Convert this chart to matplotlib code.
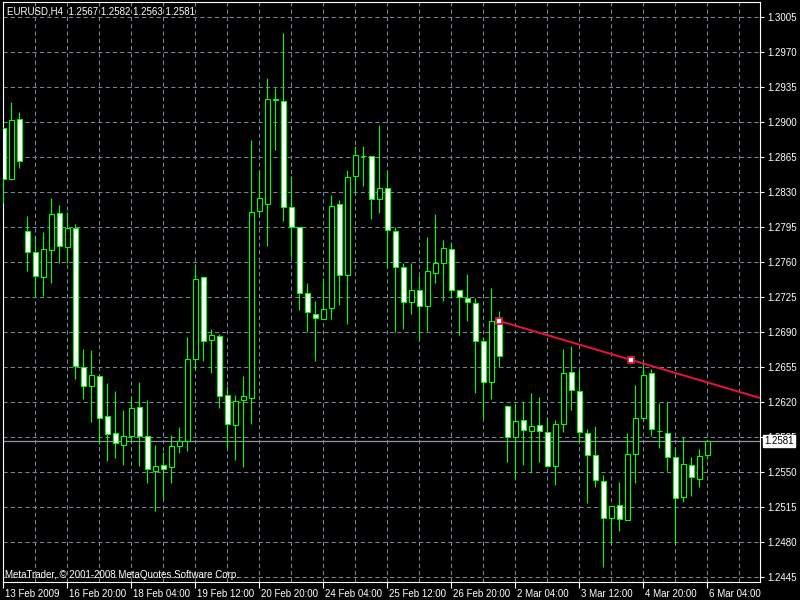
import matplotlib
matplotlib.use('Agg')
import matplotlib.pyplot as plt
import matplotlib.transforms as mtransforms
import numpy as np

plt.rcParams['font.family'] = ['Liberation Sans', 'DejaVu Sans']

symbol = 'EURUSD,H4'

# H4 candles, oldest first
opens = [1.2894, 1.2843, 1.2903, 1.2791, 1.2770, 1.2745, 1.2772, 1.2809, 1.2775, 1.2794,
         1.2655, 1.2636, 1.2646, 1.2606, 1.2589, 1.2577, 1.2586, 1.2615, 1.2586, 1.2551,
         1.2557, 1.2555, 1.2576, 1.2581, 1.2663, 1.2745, 1.2682, 1.2686, 1.2627, 1.2597,
         1.2622, 1.2624, 1.2811, 1.2818, 1.2922, 1.2921, 1.2815, 1.2795, 1.2729, 1.2708,
         1.2703, 1.2714, 1.2818, 1.2747, 1.2846, 1.2866, 1.2866, 1.2823, 1.2834, 1.2791,
         1.2755, 1.2720, 1.2732, 1.2716, 1.2749, 1.2759, 1.2773, 1.2732, 1.2724, 1.2719,
         1.2681, 1.2640, 1.2700, 1.2616, 1.2585, 1.2602, 1.2591, 1.2597, 1.2590, 1.2556,
         1.2598, 1.2650, 1.2631, 1.2589, 1.2567, 1.2541, 1.2504, 1.2517, 1.2502, 1.2568,
         1.2604, 1.2649, 1.2591, 1.2589, 1.2565, 1.2525, 1.2557, 1.2543, 1.2567]
highs = [1.2895, 1.2920, 1.2910, 1.2806, 1.2786, 1.2790, 1.2824, 1.2817, 1.2810, 1.2798,
         1.2673, 1.2672, 1.2648, 1.2639, 1.2631, 1.2612, 1.2625, 1.2640, 1.2622, 1.2577,
         1.2570, 1.2587, 1.2595, 1.2685, 1.2758, 1.2745, 1.2693, 1.2688, 1.2636, 1.2627,
         1.2646, 1.2882, 1.2852, 1.2944, 1.2934, 1.2989, 1.2846, 1.2795, 1.2739, 1.2721,
         1.2744, 1.2827, 1.2822, 1.2852, 1.2876, 1.2876, 1.2866, 1.2897, 1.2852, 1.2795,
         1.2759, 1.2759, 1.2746, 1.2785, 1.2808, 1.2782, 1.2780, 1.2732, 1.2748, 1.2724,
         1.2685, 1.2734, 1.2711, 1.2617, 1.2618, 1.2620, 1.2629, 1.2625, 1.2605, 1.2602,
         1.2673, 1.2676, 1.2652, 1.2593, 1.2596, 1.2547, 1.2516, 1.2540, 1.2589, 1.2637,
         1.2661, 1.2653, 1.2619, 1.2620, 1.2575, 1.2585, 1.2565, 1.2573, 1.2582]
lows = [1.2819, 1.2842, 1.2854, 1.2751, 1.2725, 1.2726, 1.2739, 1.2759, 1.2759, 1.2643,
        1.2623, 1.2600, 1.2578, 1.2561, 1.2564, 1.2557, 1.2579, 1.2556, 1.2539, 1.2511,
        1.2523, 1.2539, 1.2569, 1.2571, 1.2652, 1.2661, 1.2649, 1.2614, 1.2574, 1.2562,
        1.2555, 1.2598, 1.2806, 1.2776, 1.2872, 1.2801, 1.2765, 1.2712, 1.2690, 1.2661,
        1.2703, 1.2703, 1.2717, 1.2698, 1.2829, 1.2836, 1.2803, 1.2809, 1.2754, 1.2690,
        1.2693, 1.2708, 1.2681, 1.2691, 1.2739, 1.2721, 1.2724, 1.2687, 1.2701, 1.2629,
        1.2603, 1.2623, 1.2655, 1.2560, 1.2543, 1.2557, 1.2550, 1.2560, 1.2555, 1.2537,
        1.2590, 1.2612, 1.2580, 1.2519, 1.2535, 1.2455, 1.2479, 1.2491, 1.2502, 1.2539,
        1.2602, 1.2586, 1.2574, 1.2551, 1.2478, 1.2520, 1.2526, 1.2535, 1.2563]
closes = [1.2843, 1.2902, 1.2861, 1.2770, 1.2746, 1.2773, 1.2808, 1.2776, 1.2794, 1.2656,
          1.2636, 1.2647, 1.2604, 1.2588, 1.2579, 1.2586, 1.2614, 1.2586, 1.2553, 1.2556,
          1.2553, 1.2576, 1.2581, 1.2663, 1.2743, 1.2681, 1.2687, 1.2626, 1.2598, 1.2621,
          1.2626, 1.2810, 1.2824, 1.2923, 1.2923, 1.2815, 1.2795, 1.2729, 1.2710, 1.2704,
          1.2713, 1.2816, 1.2747, 1.2845, 1.2867, 1.2866, 1.2823, 1.2834, 1.2792, 1.2755,
          1.2720, 1.2732, 1.2716, 1.2751, 1.2759, 1.2774, 1.2732, 1.2725, 1.2720, 1.2681,
          1.2640, 1.2701, 1.2666, 1.2585, 1.2601, 1.2592, 1.2596, 1.2591, 1.2556, 1.2598,
          1.2649, 1.2632, 1.2590, 1.2567, 1.2542, 1.2504, 1.2516, 1.2503, 1.2568, 1.2604,
          1.2647, 1.2593, 1.2591, 1.2565, 1.2524, 1.2558, 1.2545, 1.2566, 1.2581]

date_labels = ['13 Feb 2009', '16 Feb 20:00', '18 Feb 04:00', '19 Feb 12:00',
               '20 Feb 20:00', '24 Feb 04:00', '25 Feb 12:00', '26 Feb 20:00',
               '2 Mar 04:00', '3 Mar 12:00', '4 Mar 20:00', '6 Mar 04:00']
price_ticks = [1.2445, 1.2480, 1.2515, 1.2550, 1.2585, 1.2620, 1.2655, 1.2690, 1.2725,
               1.2760, 1.2795, 1.2830, 1.2865, 1.2900, 1.2935, 1.2970, 1.3005]
bid = 1.2581

# trendline anchors (bar index, price)
trend_x = [62, 78.5]
trend_y = [1.2701, 1.2662]

GREEN = '#00ff00'
GRID = '#778899'

fig = plt.figure(figsize=(8, 6), dpi=100)
fig.set_facecolor('black')
ax = fig.add_axes([2.7 / 800, 17.7 / 600, 757.6 / 800, 580 / 600])
ax.set_facecolor('black')

x = np.arange(len(opens))
o = np.array(opens)
c = np.array(closes)
ax.vlines(x, lows, highs, color=GREEN, lw=0.8, zorder=3)
body_col = ['black' if cc > oo else 'white' for oo, cc in zip(o, c)]
ax.bar(x, c - o, bottom=o, width=0.6, color=body_col, edgecolor=GREEN,
       linewidth=0.8, zorder=4)

ax.set_xlim(-0.075, 94.6)
ax.set_ylim(1.24397, 1.30197)

# bid line
ax.axhline(bid, color='#8c96a0', lw=0.9, zorder=2)

# trendline as a ray to the right edge
slope = (trend_y[1] - trend_y[0]) / (trend_x[1] - trend_x[0])
x_end = ax.get_xlim()[1]
ax.plot([trend_x[0], x_end], [trend_y[0], trend_y[0] + slope * (x_end - trend_x[0])],
        color='#dc143c', lw=1.5, zorder=5)
ax.plot(trend_x, trend_y, ls='none', marker='s', ms=4, mfc='white', mec='#dc143c',
        mew=1.3, zorder=6)

# axes, ticks and grid
for s in ax.spines.values():
    s.set_color('white')
    s.set_linewidth(0.8)

ax.yaxis.tick_right()
ax.set_yticks(price_ticks)
ax.set_yticklabels(['%.4f' % p for p in price_ticks])
ax.tick_params(axis='y', colors='white', length=3, width=0.8, pad=2, labelsize=7)

ax.set_xticks(range(0, len(opens), 8))
ax.set_xticklabels(date_labels)
ax.set_xticks(range(0, 93, 4), minor=True)
ax.tick_params(axis='x', which='major', colors='white', length=4, width=0.8, pad=1,
               labelsize=7)
ax.tick_params(axis='x', which='minor', length=0)
shift = mtransforms.ScaledTranslation(2 / 100, 0, fig.dpi_scale_trans)
for lab in ax.get_xticklabels():
    lab.set_ha('left')
    lab.set_transform(lab.get_transform() + shift)

ax.grid(True, which='both', axis='x', color=GRID, ls=(0, (4, 3)), lw=0.75)
ax.grid(True, which='major', axis='y', color=GRID, ls=(0, (4, 3)), lw=0.75)
ax.set_axisbelow(True)

# texts
last = len(opens) - 1
title = '%s  %.4f %.4f %.4f %.4f' % (symbol, opens[last], highs[last], lows[last], closes[last])
fig.text(7 / 800, 1 - 11 / 600, title, color='white', fontsize=7, va='center')
fig.text(5 / 800, 1 - 575 / 600, 'MetaTrader, \u00a9 2001-2008 MetaQuotes Software Corp.',
         color='white', fontsize=7, va='center')
ax.text(1 + 4 / 757.6, bid, '%.4f' % bid, transform=ax.get_yaxis_transform(),
        color='black', fontsize=7, va='center', ha='left', clip_on=False, zorder=10,
        bbox=dict(boxstyle='square,pad=0.15', fc='white', ec='white'))

fig.savefig('out.png', dpi=100, facecolor=fig.get_facecolor())
